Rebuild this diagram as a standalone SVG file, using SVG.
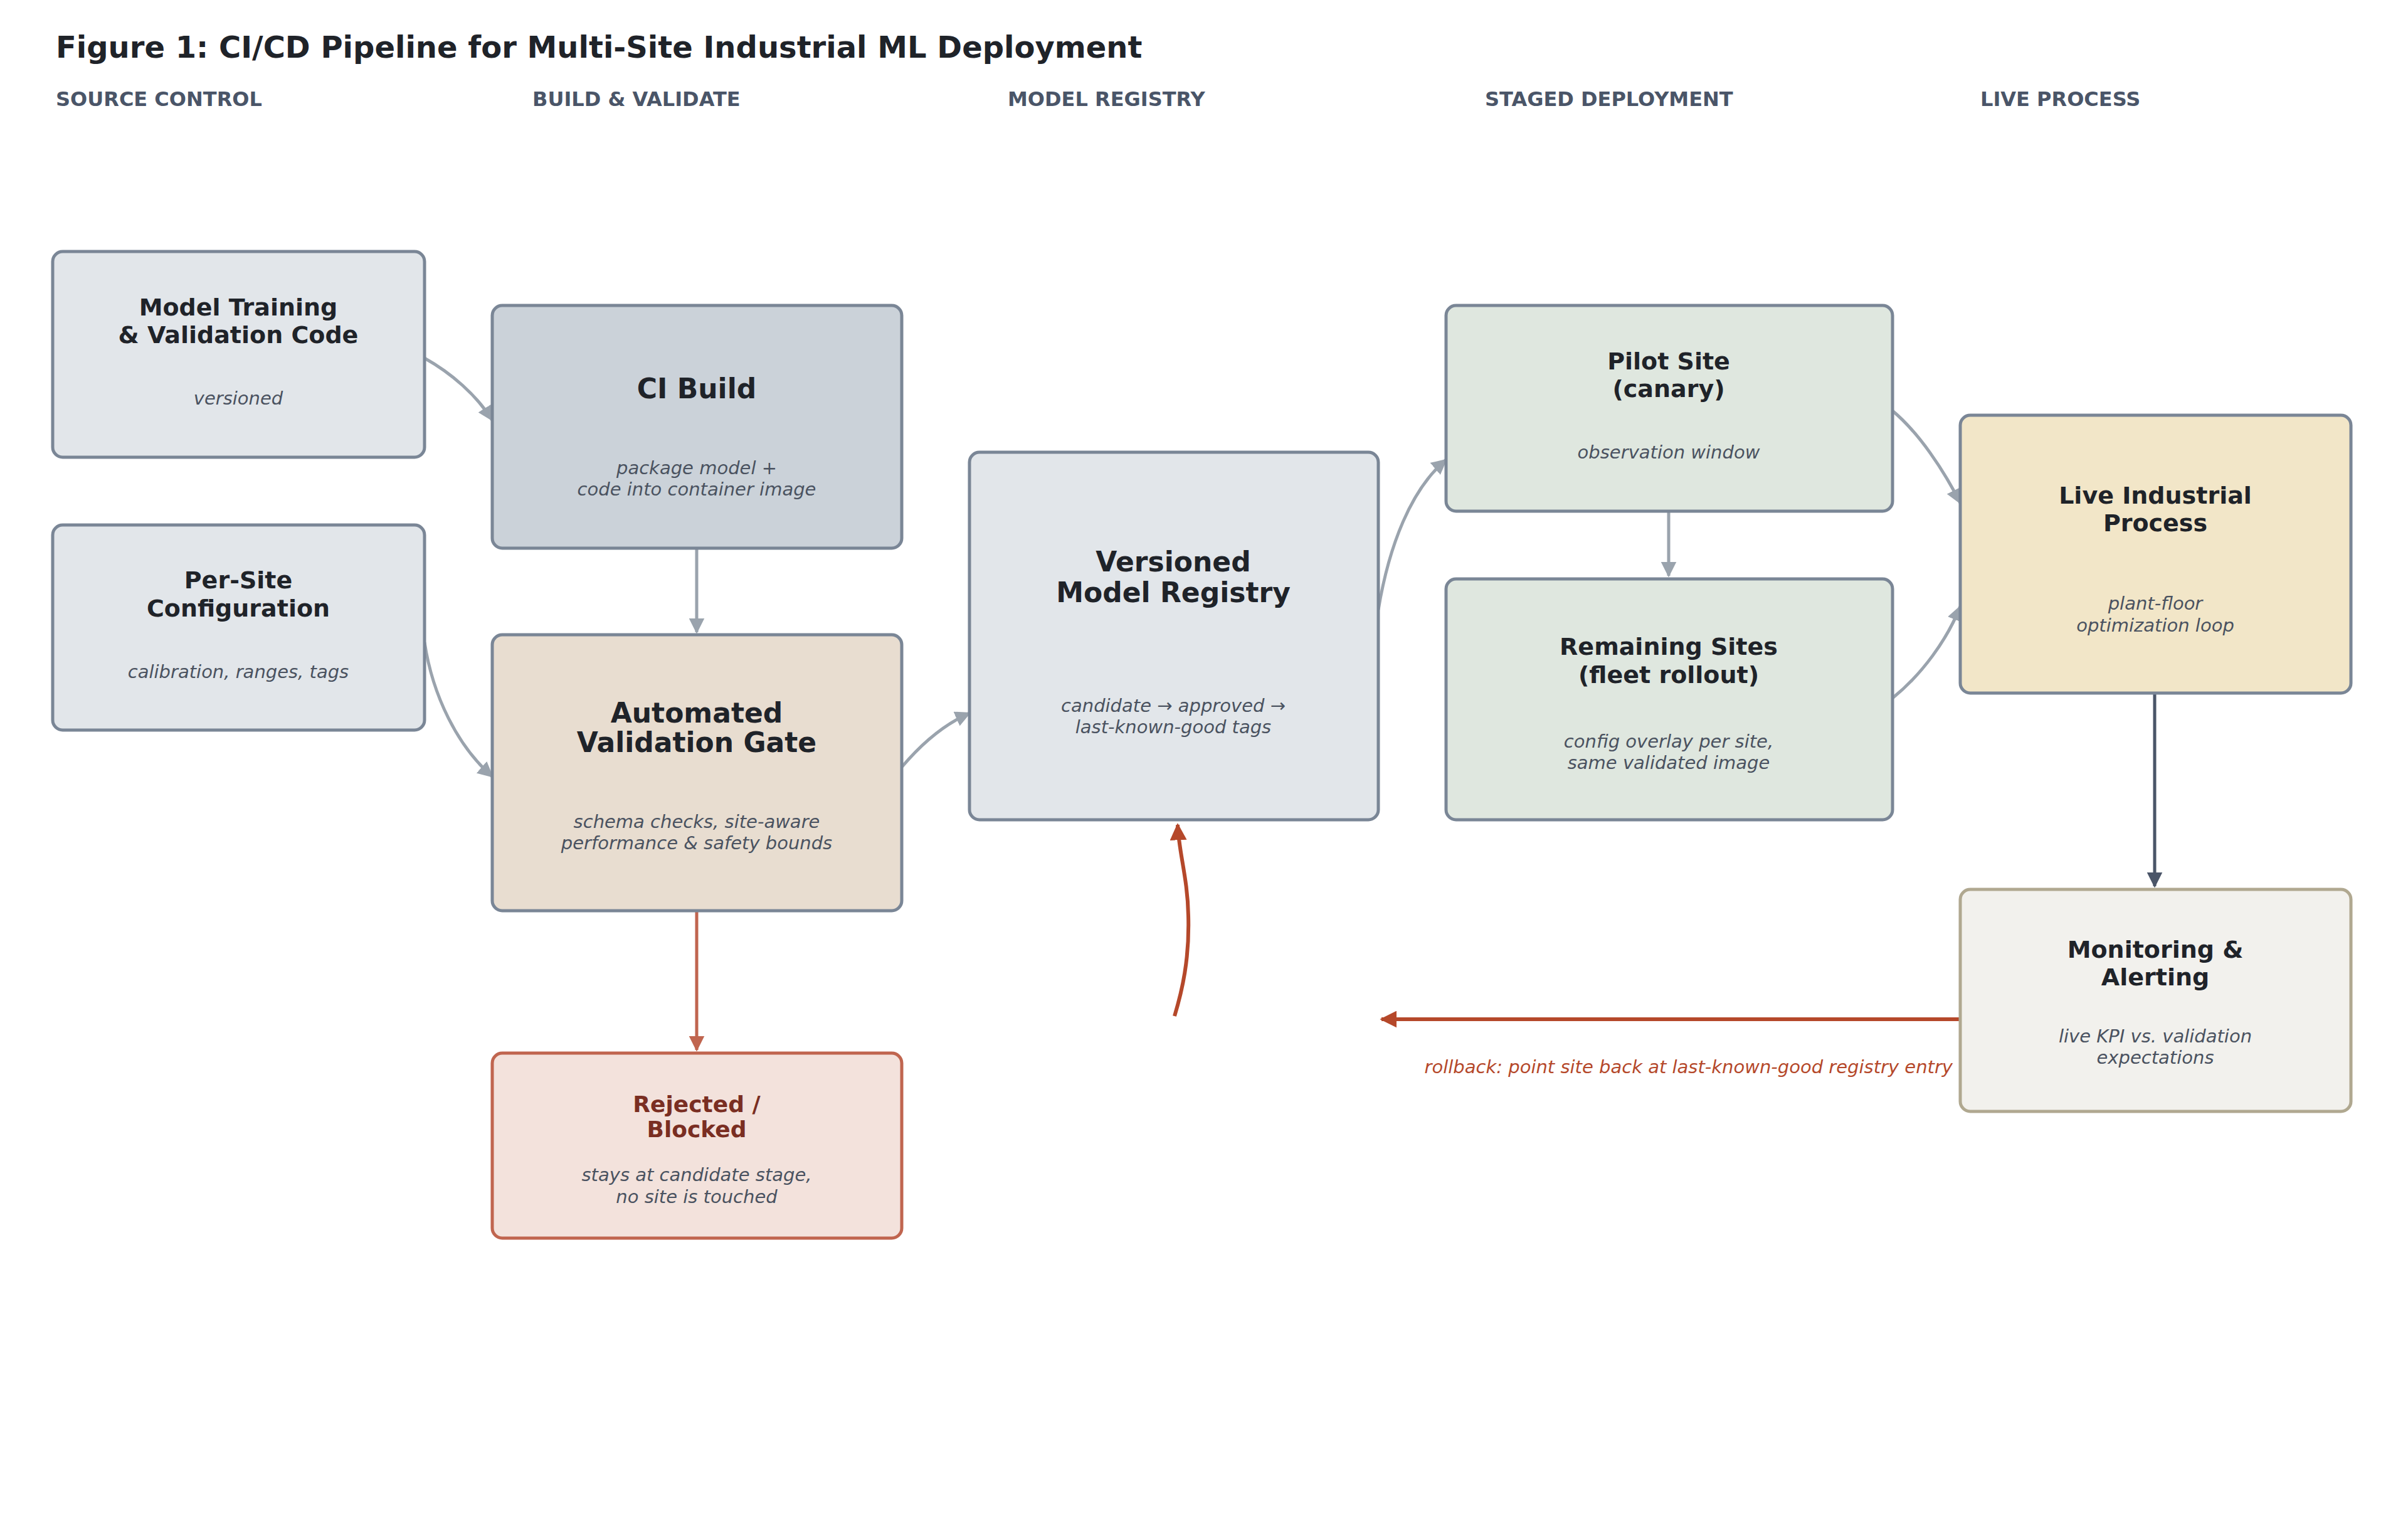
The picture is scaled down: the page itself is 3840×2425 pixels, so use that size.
<svg xmlns="http://www.w3.org/2000/svg" width="3840" height="2425" viewBox="0 0 3840 2425">
<style>
text{font-family:"DejaVu Sans","Liberation Sans",sans-serif;text-anchor:middle}
.t{font-size:38px;font-weight:bold;fill:#1f2329}
.tl{font-size:44px;font-weight:bold;fill:#1f2329}
.s{font-size:29px;font-style:italic;fill:#4a5260}
.h{font-size:32px;font-weight:bold;fill:#4a5568;text-anchor:start}
.box{stroke:#7a8696;stroke-width:5}
.c{fill:none;stroke:#9aa3ad;stroke-width:5}
</style>
<defs>
<marker id="ag" viewBox="0 0 10 10" refX="9" refY="5" markerWidth="5" markerHeight="5" orient="auto" markerUnits="strokeWidth"><path d="M0,0L10,5L0,10z" fill="#9aa3ad"/></marker>
<marker id="ad" viewBox="0 0 10 10" refX="9" refY="5" markerWidth="5" markerHeight="5" orient="auto" markerUnits="strokeWidth"><path d="M0,0L10,5L0,10z" fill="#4a5568"/></marker>
<marker id="ar" viewBox="0 0 10 10" refX="9" refY="5" markerWidth="5" markerHeight="5" orient="auto" markerUnits="strokeWidth"><path d="M0,0L10,5L0,10z" fill="#c0654f"/></marker>
<marker id="ab" viewBox="0 0 10 10" refX="9" refY="5" markerWidth="4.5" markerHeight="4.5" orient="auto" markerUnits="strokeWidth"><path d="M0,0L10,5L0,10z" fill="#b5482a"/></marker>
</defs>
<rect width="3840" height="2425" fill="#fff"/>
<text x="89" y="92" style="font-size:48px;font-weight:bold;fill:#1f2329;text-anchor:start">Figure 1: CI/CD Pipeline for Multi-Site Industrial ML Deployment</text>
<text class="h" x="89" y="169">SOURCE CONTROL</text>
<text class="h" x="849" y="169">BUILD &amp; VALIDATE</text>
<text class="h" x="1607" y="169">MODEL REGISTRY</text>
<text class="h" x="2368" y="169">STAGED DEPLOYMENT</text>
<text class="h" x="3158" y="169">LIVE PROCESS</text>

<g id="connectors">
<path class="c" d="M677,571 C720,595 760,630 785,670" marker-end="url(#ag)"/>
<path class="c" d="M677,1024 C690,1110 730,1190 785,1238" marker-end="url(#ag)"/>
<path class="c" d="M1111,874 L1111,1008" marker-end="url(#ag)"/>
<path class="c" d="M1438,1223 C1470,1185 1505,1155 1546,1137" marker-end="url(#ag)"/>
<path class="c" d="M2198,972 C2215,870 2250,780 2306,733" marker-end="url(#ag)"/>
<path class="c" d="M2661,815 L2661,918" marker-end="url(#ag)"/>
<path class="c" d="M3018,655 C3060,690 3100,750 3126,802" marker-end="url(#ag)"/>
<path class="c" d="M3018,1113 C3065,1075 3105,1020 3126,967" marker-end="url(#ag)"/>
<path d="M3436,1105 L3436,1413" fill="none" stroke="#4a5568" stroke-width="5" marker-end="url(#ad)"/>
<path d="M1111,1452 L1111,1674" fill="none" stroke="#c0654f" stroke-width="5" marker-end="url(#ar)"/>
<path d="M3126,1625 L2203,1625" fill="none" stroke="#b5482a" stroke-width="6" marker-end="url(#ab)"/>
<path d="M1873,1620 C1885,1580 1897,1530 1895,1460 C1894,1400 1880,1360 1878,1315" fill="none" stroke="#b5482a" stroke-width="6" marker-end="url(#ab)"/>
<text x="3114" y="1711" style="font-size:29px;font-style:italic;fill:#b5482a;text-anchor:end">rollback: point site back at last-known-good registry entry</text>
</g>

<g id="n1"><rect class="box" x="84" y="401" width="593" height="328" rx="16" fill="#e2e6ea"/>
<text class="t" x="380" y="503">Model Training</text><text class="t" x="380" y="547">&amp; Validation Code</text>
<text class="s" x="380" y="645">versioned</text></g>
<g id="n2"><rect class="box" x="84" y="837" width="593" height="327" rx="16" fill="#e2e6ea"/>
<text class="t" x="380" y="938">Per-Site</text><text class="t" x="380" y="983">Configuration</text>
<text class="s" x="380" y="1081">calibration, ranges, tags</text></g>
<g id="n3"><rect class="box" x="785" y="487" width="653" height="387" rx="16" fill="#cbd2d9"/>
<text class="tl" x="1111" y="635">CI Build</text>
<text class="s" x="1111" y="756">package model +</text><text class="s" x="1111" y="790">code into container image</text></g>
<g id="n4"><rect class="box" x="785" y="1012" width="653" height="440" rx="16" fill="#e8ddd0"/>
<text class="tl" x="1111" y="1152">Automated</text><text class="tl" x="1111" y="1199">Validation Gate</text>
<text class="s" x="1111" y="1320">schema checks, site-aware</text><text class="s" x="1111" y="1354">performance &amp; safety bounds</text></g>
<g id="n5"><rect x="785" y="1679" width="653" height="295" rx="16" fill="#f3e2dc" stroke="#c0654f" stroke-width="5"/>
<text x="1111" y="1773" style="font-size:36px;font-weight:bold;fill:#7a2e22">Rejected /</text><text x="1111" y="1813" style="font-size:36px;font-weight:bold;fill:#7a2e22">Blocked</text>
<text class="s" x="1111" y="1883">stays at candidate stage,</text><text class="s" x="1111" y="1918">no site is touched</text></g>
<g id="n6"><rect class="box" x="1546" y="721" width="652" height="586" rx="16" fill="#e2e6ea"/>
<text class="tl" x="1871" y="911">Versioned</text><text class="tl" x="1871" y="960">Model Registry</text>
<text class="s" x="1871" y="1135">candidate → approved →</text><text class="s" x="1871" y="1169">last-known-good tags</text></g>
<g id="n7"><rect class="box" x="2306" y="487" width="712" height="328" rx="16" fill="#dfe7df"/>
<text class="t" x="2661" y="589">Pilot Site</text><text class="t" x="2661" y="633">(canary)</text>
<text class="s" x="2661" y="731">observation window</text></g>
<g id="n8"><rect class="box" x="2306" y="923" width="712" height="384" rx="16" fill="#dfe7df"/>
<text class="t" x="2661" y="1044">Remaining Sites</text><text class="t" x="2661" y="1089">(fleet rollout)</text>
<text class="s" x="2661" y="1192">config overlay per site,</text><text class="s" x="2661" y="1226">same validated image</text></g>
<g id="n9"><rect class="box" x="3126" y="662" width="623" height="443" rx="16" fill="#f2e6c8"/>
<text class="t" x="3437" y="803">Live Industrial</text><text class="t" x="3437" y="847">Process</text>
<text class="s" x="3437" y="972">plant-floor</text><text class="s" x="3437" y="1007">optimization loop</text></g>
<g id="n10"><rect x="3126" y="1418" width="623" height="354" rx="16" fill="#f2f1ed" stroke="#b0a890" stroke-width="5"/>
<text class="t" x="3437" y="1527">Monitoring &amp;</text><text class="t" x="3437" y="1571">Alerting</text>
<text class="s" x="3437" y="1662">live KPI vs. validation</text><text class="s" x="3437" y="1696">expectations</text></g>
</svg>
